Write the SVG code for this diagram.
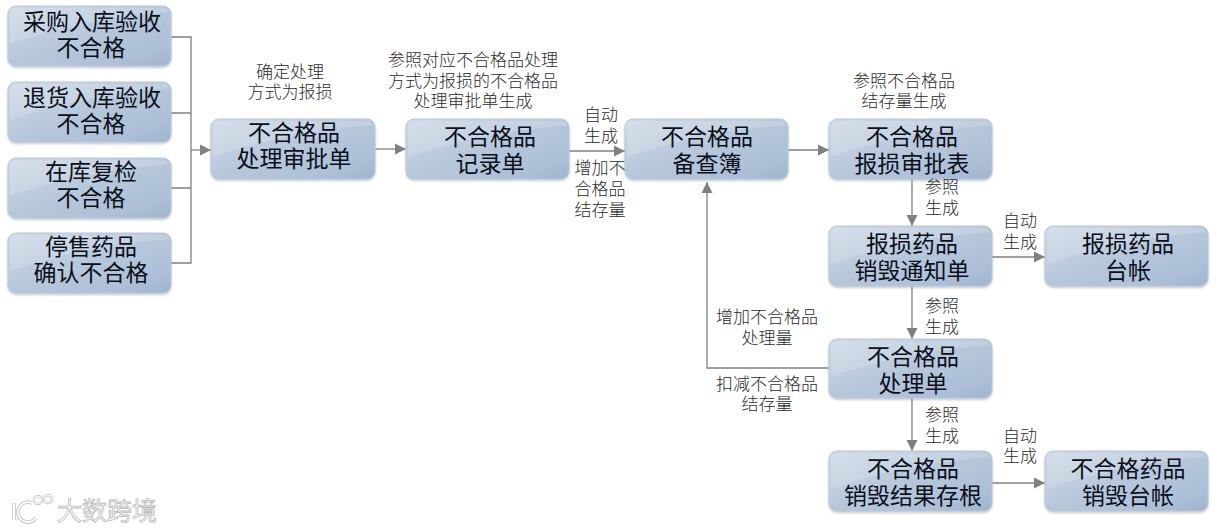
<svg xmlns="http://www.w3.org/2000/svg" width="1216" height="532" viewBox="0 0 1216 532">
<style>
text{font-family:"Noto Sans CJK SC","Liberation Sans",sans-serif;text-anchor:middle}
.n rect.b{fill:url(#g);stroke:#bcc9d9;stroke-width:1;filter:url(#s)}
.n text{font-size:23px;fill:#0a0f1a}
.l{font-size:17px;fill:#2a2a2a;font-weight:300}
.c{fill:none;stroke:#808080;stroke-width:1.3}
.a{marker-end:url(#m)}
.w{font-size:25px;fill:#fff;stroke:#bbb;stroke-width:.8}
</style>
<defs>
<linearGradient id="g" x1="0" y1="0" x2="1" y2="1">
<stop offset="0" stop-color="#cfd9e6"/><stop offset=".5" stop-color="#b7c7db"/><stop offset=".8" stop-color="#adc0d8"/><stop offset="1" stop-color="#a0b4cd"/>
</linearGradient>
<filter id="s" x="-5%" y="-10%" width="110%" height="125%"><feDropShadow dx="0" dy="1.5" stdDeviation="1" flood-color="#8a96a6" flood-opacity=".5"/></filter>
<marker id="m" markerUnits="userSpaceOnUse" markerWidth="12" markerHeight="12" refX="11" refY="6" orient="auto"><path d="M0 0.5L11 6L0 11.5z" fill="#808080"/></marker>
<path id="gl" d="M2 38Q70 14 161 6V8Q161 2 155 2H8Q2 2 2 8z" fill="#fff" opacity=".16"/>
</defs>
<rect width="1216" height="532" fill="#fff"/>
<g id="connectors">
<path class="c" d="M171 37H191V263H171M171 113H191M171 188H191"/>
<path class="c a" d="M191 150H211"/>
<path class="c a" d="M375 149H406"/>
<path class="c a" d="M569 151H625"/>
<path class="c a" d="M783 150H829"/>
<path class="c a" d="M912 179V226"/>
<path class="c a" d="M985 257H1045"/>
<path class="c a" d="M912 286V339"/>
<path class="c a" d="M912 398V451"/>
<path class="c a" d="M985 483H1045"/>
<path class="c a" d="M829 368H707V182"/>
</g>
<g id="n1" class="n"><rect class="b" x="8" y="6" width="163" height="60" rx="8"/><use href="#gl" x="8" y="6"/><text><tspan x="92" y="30">采购入库验收</tspan><tspan x="91" y="56">不合格</tspan></text></g>
<g id="n2" class="n"><rect class="b" x="8" y="82" width="163" height="60" rx="8"/><use href="#gl" x="8" y="82"/><text><tspan x="92" y="106">退货入库验收</tspan><tspan x="91" y="132">不合格</tspan></text></g>
<g id="n3" class="n"><rect class="b" x="8" y="158" width="163" height="60" rx="8"/><use href="#gl" x="8" y="158"/><text><tspan x="91" y="180">在库复检</tspan><tspan x="91" y="206">不合格</tspan></text></g>
<g id="n4" class="n"><rect class="b" x="8" y="233" width="163" height="60" rx="8"/><use href="#gl" x="8" y="233"/><text><tspan x="91" y="255">停售药品</tspan><tspan x="91" y="281">确认不合格</tspan></text></g>
<g id="n5" class="n"><rect class="b" x="211" y="119" width="164" height="60" rx="8"/><use href="#gl" x="211" y="119"/><text><tspan x="294" y="141">不合格品</tspan><tspan x="294" y="167">处理审批单</tspan></text></g>
<g id="n6" class="n"><rect class="b" x="406" y="119" width="163" height="60" rx="8"/><use href="#gl" x="406" y="119"/><text><tspan x="490" y="145">不合格品</tspan><tspan x="490" y="172">记录单</tspan></text></g>
<g id="n7" class="n"><rect class="b" x="625" y="119" width="163" height="60" rx="8"/><use href="#gl" x="625" y="119"/><text><tspan x="707" y="145">不合格品</tspan><tspan x="707" y="172">备查簿</tspan></text></g>
<g id="n8" class="n"><rect class="b" x="829" y="119" width="163" height="60" rx="8"/><use href="#gl" x="829" y="119"/><text><tspan x="912" y="145">不合格品</tspan><tspan x="912" y="172">报损审批表</tspan></text></g>
<g id="n9" class="n"><rect class="b" x="829" y="226" width="163" height="60" rx="8"/><use href="#gl" x="829" y="226"/><text><tspan x="912" y="252">报损药品</tspan><tspan x="912" y="279">销毁通知单</tspan></text></g>
<g id="n10" class="n"><rect class="b" x="1045" y="226" width="163" height="60" rx="8"/><use href="#gl" x="1045" y="226"/><text><tspan x="1128" y="252">报损药品</tspan><tspan x="1128" y="279">台帐</tspan></text></g>
<g id="n11" class="n"><rect class="b" x="829" y="339" width="163" height="59" rx="8"/><use href="#gl" x="829" y="339"/><text><tspan x="913" y="365">不合格品</tspan><tspan x="913" y="392">处理单</tspan></text></g>
<g id="n12" class="n"><rect class="b" x="829" y="451" width="163" height="60" rx="8"/><use href="#gl" x="829" y="451"/><text><tspan x="913" y="477">不合格品</tspan><tspan x="913" y="504">销毁结果存根</tspan></text></g>
<g id="n13" class="n"><rect class="b" x="1045" y="451" width="163" height="60" rx="8"/><use href="#gl" x="1045" y="451"/><text><tspan x="1128" y="477">不合格药品</tspan><tspan x="1128" y="504">销毁台帐</tspan></text></g>
<g id="labels">
<text class="l"><tspan x="290" y="78">确定处理</tspan><tspan x="290" y="98">方式为报损</tspan></text>
<text class="l"><tspan x="473" y="66">参照对应不合格品处理</tspan><tspan x="473" y="87">方式为报损的不合格品</tspan><tspan x="473" y="107">处理审批单生成</tspan></text>
<text class="l"><tspan x="601" y="121">自动</tspan><tspan x="601" y="142">生成</tspan></text>
<text class="l"><tspan x="600" y="174">增加不</tspan><tspan x="600" y="195">合格品</tspan><tspan x="600" y="216">结存量</tspan></text>
<text class="l"><tspan x="904" y="87">参照不合格品</tspan><tspan x="904" y="107">结存量生成</tspan></text>
<text class="l"><tspan x="942" y="193">参照</tspan><tspan x="942" y="214">生成</tspan></text>
<text class="l"><tspan x="1020" y="227">自动</tspan><tspan x="1020" y="248">生成</tspan></text>
<text class="l"><tspan x="942" y="312">参照</tspan><tspan x="942" y="333">生成</tspan></text>
<text class="l"><tspan x="767" y="323">增加不合格品</tspan><tspan x="767" y="344">处理量</tspan></text>
<text class="l"><tspan x="767" y="390">扣减不合格品</tspan><tspan x="767" y="410">结存量</tspan></text>
<text class="l"><tspan x="942" y="421">参照</tspan><tspan x="942" y="442">生成</tspan></text>
<text class="l"><tspan x="1020" y="442">自动</tspan><tspan x="1020" y="462">生成</tspan></text>
</g>
<g id="watermark">
<g fill="none" stroke="#c4c4c4" stroke-width="3.6"><path d="M14 503V520"/><path d="M32 503A10 10 0 1 0 36 518"/><circle cx="38" cy="500" r="4" stroke-width="2.4"/><circle cx="48" cy="499" r="4" stroke-width="2.4"/></g>
<g fill="none" stroke="#fff" stroke-width="1.8"><path d="M14 503V520"/><path d="M32 503A10 10 0 1 0 36 518"/><circle cx="38" cy="500" r="4" stroke-width="1"/><circle cx="48" cy="499" r="4" stroke-width="1"/></g>
<text class="w" x="107" y="520">大数跨境</text>
</g>
</svg>
